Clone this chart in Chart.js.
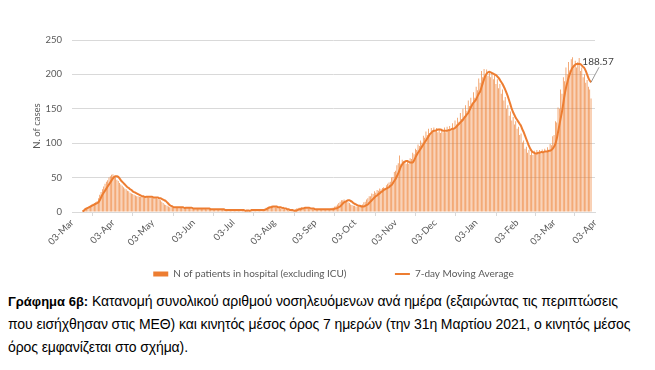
<!DOCTYPE html>
<html>
<head>
<meta charset="utf-8">
<script src="https://cdn.jsdelivr.net/npm/chart.js@4/dist/chart.umd.min.js"></script>
<style>
  html, body { margin: 0; padding: 0; background: #fff; }
  #wrap { position: relative; width: 655px; height: 370px; overflow: hidden; }
  #myChart { position: absolute; left: 0; top: 0; }
  #caption {
    position: absolute; left: 8px; top: 290px; width: 640px;
    font-family: "Liberation Sans Narrow", "Liberation Sans", Arial, sans-serif;
    font-size: 14px; line-height: 23px; color: #000; white-space: nowrap;
    letter-spacing: -0.1px;
  }
  #caption b { font-family: "Liberation Sans", Arial, sans-serif; font-size: 13px; letter-spacing: 0; }
</style>
</head>
<body>
<div id="wrap">
  <canvas id="myChart" width="655" height="290"></canvas>
  <div id="caption"><b>Γράφημα 6β:</b> Κατανομή συνολικού αριθμού νοσηλευόμενων ανά ημέρα (εξαιρώντας τις περιπτώσεις<br>που εισήχθησαν στις ΜΕΘ) και κινητός μέσος όρος 7 ημερών (την 31η Μαρτίου 2021, ο κινητός μέσος<br>όρος εμφανίζεται στο σχήμα).</div>
</div>
<script>
// daily categories, 03-Mar-2020 .. 03-Apr-2021
const monthNames = ['Jan','Feb','Mar','Apr','May','Jun','Jul','Aug','Sep','Oct','Nov','Dec'];
const dayLabels = [];
for (let i = 0; i < 397; i++) {
  const d = new Date(2020, 2, 3 + i);
  dayLabels.push(String(d.getDate()).padStart(2, '0') + '-' + monthNames[d.getMonth()]);
}

const yTicks = [0, 50, 100, 150, 200, 250];

// N of patients in hospital (excluding ICU), one value per day
const hospital = [
  null,null,null,null,null,null,null,null,2,3,
  5,6,7,8,9,11,12,13,14,16,
  20,25,29,33,37,41,44,46,50,52,
  54,55,51,50,47,45,42,40,38,36,
  34,33,31,30,28,27,26,25,24,23,
  23,22,22,22,22,22,22,22,21,21,
  21,21,21,20,20,19,18,17,15,13,
  11,10,9,8,7,7,7,7,7,7,
  7,7,7,7,6,6,6,6,6,6,
  5,5,5,5,5,5,5,5,5,5,
  5,5,4,4,4,4,4,4,4,4,
  4,4,4,3,3,3,3,3,3,3,
  3,3,3,3,3,3,3,2,2,2,
  2,2,2,2,2,3,3,3,3,3,
  3,3,3,3,3,4,5,6,7,8,
  8,9,8,8,7,7,6,6,5,5,
  4,4,3,3,2,2,2,3,3,4,
  5,5,6,6,7,6,6,6,5,5,
  5,4,4,4,4,4,4,4,4,4,
  4,4,4,4,4,4,5,6,6,8,
  9,11,13,15,17,17,18,16,16,14,
  13,11,10,9,9,8,8,8,9,10,
  11,14,15,18,20,23,23,27,26,30,
  28,32,31,34,33,35,36,35,39,41,
  43,44,50,51,58,60,68,71,82,70,
  76,72,75,70,74,70,78,77,86,84,
  92,90,98,96,104,101,111,108,117,112,
  121,115,122,116,123,117,122,116,121,115,
  121,116,123,116,124,118,125,119,129,122,
  133,127,137,131,144,135,150,140,155,147,
  162,154,166,158,174,166,182,177,194,188,
  205,196,208,200,207,198,205,196,203,193,
  199,186,193,180,186,172,178,162,167,150,
  155,140,146,133,138,127,132,121,124,112,
  114,101,104,92,95,86,90,83,88,83,
  89,84,90,85,90,86,91,86,92,87,
  94,89,99,97,110,112,132,130,152,150,
  178,172,196,190,210,200,218,206,222,225,
  214,220,210,218,224,205,210,196,200,188,
  192,182,178,165,null,null,null
];

// 7-day moving average, one value per day
const movingAvg = [
  null,null,null,null,null,null,null,null,1,2,
  4,5,6,7,8,9,10,11,12,13,
  14,17,21,25,28,31,34,37,40,43,
  46,49,51,52,52,51,49,46,44,42,
  40,38,36,35,33,32,30,29,28,27,
  26,25,24,23,23,22,22,22,22,22,
  22,22,21,21,21,21,20,20,19,18,
  17,16,14,12,10,9,8,7,7,7,
  7,7,7,7,7,6,6,6,6,6,
  6,6,5,5,5,5,5,5,5,5,
  5,5,5,5,5,4,4,4,4,4,
  4,4,4,4,4,4,3,3,3,3,
  3,3,3,3,3,3,3,3,3,3,
  3,2,2,2,2,2,3,3,3,3,
  3,3,3,3,3,3,3,4,5,6,
  7,7,8,8,8,8,7,7,7,6,
  6,5,5,4,4,3,3,3,2,2,
  2,3,4,4,5,5,6,6,6,6,
  6,5,5,5,4,4,4,4,4,4,
  4,4,4,4,4,4,4,4,4,5,
  5,6,7,8,10,12,14,15,16,17,
  17,16,15,13,12,11,10,9,9,8,
  8,8,9,10,11,13,15,17,19,21,
  23,24,26,27,29,30,32,33,34,35,
  36,38,39,42,45,48,52,56,61,66,
  69,72,73,74,74,73,72,72,72,75,
  79,83,86,89,92,95,98,101,104,107,
  110,113,115,117,118,118,119,120,120,120,
  119,118,118,118,118,119,119,120,121,121,
  122,124,126,128,130,132,134,137,139,142,
  144,148,152,156,159,161,164,168,172,175,
  181,187,193,198,201,203,204,203,202,201,
  200,199,197,195,192,189,186,182,178,173,
  168,162,156,150,145,141,137,134,131,128,
  125,120,116,111,106,101,96,92,89,87,
  86,85,85,86,86,87,87,87,88,88,
  88,89,89,90,92,95,99,106,116,126,
  136,146,158,170,180,188,195,201,206,210,
  212,214,215,215,215,215,213,211,209,205,
  200,195,191,188.57,null,null,null
];

const orange = '#ED7D31';
const gray = '#595959';

const lastValueLabel = {
  id: 'lastValueLabel',
  afterDatasetsDraw(chart) {
    const meta = chart.getDatasetMeta(1);
    let idx = movingAvg.length - 1;
    while (movingAvg[idx] == null) idx--;
    const pt = meta.data[idx];
    const c = chart.ctx;
    c.save();
    c.strokeStyle = '#7f7f7f';
    c.lineWidth = 0.8;
    c.beginPath();
    c.moveTo(pt.x, pt.y);
    c.lineTo(pt.x + 8, pt.y - 15);
    c.stroke();
    c.fillStyle = '#404040';
    c.font = '10px Lato';
    c.textAlign = 'center';
    c.textBaseline = 'bottom';
    c.fillText(movingAvg[idx].toFixed(2), pt.x + 7, pt.y - 15);
    c.restore();
  }
};

new Chart(document.getElementById('myChart'), {
  type: 'bar',
  data: {
    labels: dayLabels,
    datasets: [{
      label: 'N of patients in hospital (excluding ICU)',
      data: hospital,
      backgroundColor: 'rgba(237,125,49,0.9)',
      barPercentage: 0.55,
      categoryPercentage: 1
    }, {
      type: 'line',
      label: '7-day Moving Average',
      data: movingAvg,
      borderColor: orange,
      backgroundColor: orange,
      borderWidth: 2,
      pointRadius: 0,
      tension: 0.4
    }]
  },
  options: {
    responsive: false,
    animation: false,
    devicePixelRatio: 1,
    layout: { padding: { top: 40, left: 0, right: 60, bottom: 1 } },
    plugins: {
      tooltip: { enabled: false },
      legend: {
        position: 'bottom',
        fullSize: false,
        labels: {
          usePointStyle: true,
          pointStyleWidth: 15,
          boxHeight: 5,
          padding: 10,
          color: gray,
          font: { family: 'Lato', size: 10 },
          generateLabels: (chart) => {
            const items = Chart.defaults.plugins.legend.labels.generateLabels(chart);
            items.forEach(item => {
              if (item.datasetIndex === 0) {
                item.text = item.text + ' '.repeat(15);
                item.pointStyle = 'rect';
                item.fillStyle = orange;
                item.strokeStyle = orange;
                item.lineWidth = 0;
              } else {
                item.pointStyle = 'line';
                item.strokeStyle = orange;
                item.lineWidth = 2;
              }
            });
            return items.sort((a, b) => a.datasetIndex - b.datasetIndex);
          }
        }
      }
    },
    scales: {
      x: {
        offset: false,
        grid: { display: true, drawOnChartArea: false, tickLength: 4, color: '#d9d9d9' },
        border: { color: '#d9d9d9' },
        afterBuildTicks: (scale) => {
          scale.ticks = scale.ticks.filter(t => dayLabels[t.value].startsWith('03-'));
        },
        afterFit: (scale) => { scale.height = 47; },
        ticks: {
          autoSkip: false,
          minRotation: 45,
          maxRotation: 45,
          color: gray,
          font: { family: 'Lato', size: 9.5 },
          padding: 1,
          callback: function (value) { return this.getLabelForValue(value); }
        }
      },
      y: {
        min: 0,
        max: 250,
        afterBuildTicks: (scale) => { scale.ticks = yTicks.map(v => ({ value: v })); },
        afterFit: (scale) => { scale.width = 72; },
        grid: { color: '#d9d9d9', drawTicks: false },
        border: { display: false },
        title: { display: true, text: 'N. of cases', color: gray, font: { family: 'Lato', size: 9.5 }, padding: { top: 31, bottom: 0 } },
        ticks: { color: gray, font: { family: 'Lato', size: 9.5 }, padding: 10 }
      }
    }
  },
  plugins: [lastValueLabel]
});
</script>
</body>
</html>
